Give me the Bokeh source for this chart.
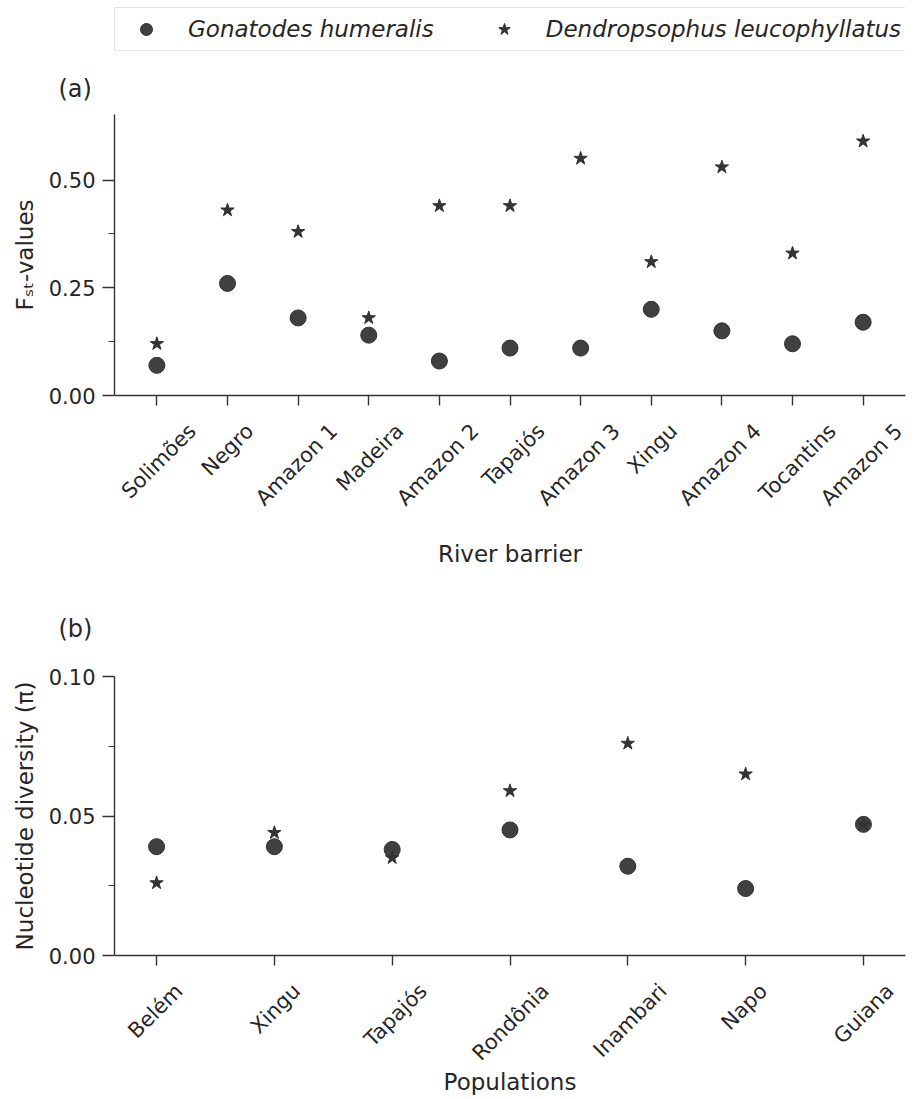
import math
from bokeh.plotting import figure
from bokeh.models import (Range1d, FixedTicker, Legend, LegendItem, Title,
                          ColumnDataSource, NumeralTickFormatter)
from bokeh.layouts import column
from bokeh.embed import file_html
from bokeh.resources import INLINE

# ---------------- data ----------------
species = ["Gonatodes humeralis", "Dendropsophus leucophyllatus"]

barriers = ["Solimões", "Negro", "Amazon 1", "Madeira", "Amazon 2", "Tapajós",
            "Amazon 3", "Xingu", "Amazon 4", "Tocantins", "Amazon 5"]
fst_gonatodes = [0.07, 0.26, 0.18, 0.14, 0.08, 0.11, 0.11, 0.20, 0.15, 0.12, 0.17]
fst_dendro = [0.12, 0.43, 0.38, 0.18, 0.44, 0.44, 0.55, 0.31, 0.53, 0.33, 0.59]

populations = ["Belém", "Xingu", "Tapajós", "Rondônia", "Inambari", "Napo", "Guiana"]
pi_gonatodes = [0.039, 0.039, 0.038, 0.045, 0.032, 0.024, 0.047]
pi_dendro = [0.026, 0.044, 0.035, 0.059, 0.076, 0.065, 0.047]

fst_ticks = [0.0, 0.25, 0.50]
fst_minor = [0.125, 0.375]
pi_ticks = [0.0, 0.05, 0.10]
pi_minor = [0.025, 0.075]

FONT = "DejaVu Sans"
TXT = "#262626"
AX = "#333333"
MARK = "#404040"
STAR = "#333333"
W = 912
FRAME_W = 791

CIRCLE_STYLE = dict(marker="circle", size=16, fill_color=MARK,
                    line_color="#303030", line_width=1)
STAR_STYLE = dict(marker="star", size=14, fill_color=STAR,
                  line_color=STAR, line_width=1)


def centre_shift_px(label):
    # rotated (45 deg) labels are anchored at their end by Bokeh;
    # shift the anchor so that each label is centred on its tick
    approx_w = 12.3 * len(label)
    return 0.354 * (approx_w + 16) - 5


def panel(src, cats, x_pad, y_end, yticks, yminor,
          ylabel, xlabel, title, height, b_top, b_bottom, title_standoff,
          xlabel_standoff):
    idx = list(range(len(cats)))
    p = figure(width=W, height=height,
               x_range=Range1d(-x_pad, len(cats) - 1 + x_pad),
               y_range=Range1d(0, y_end),
               output_backend="svg", toolbar_location=None,
               min_border_left=114, min_border_right=W - 114 - FRAME_W,
               min_border_top=b_top, min_border_bottom=b_bottom)
    p.title_location = None
    p.outline_line_color = None
    p.xgrid.visible = False
    p.ygrid.visible = False

    p.scatter("x", "g", source=src, **CIRCLE_STYLE)
    p.scatter("x", "d", source=src, **STAR_STYLE)

    # panel title "(a)" / "(b)"
    p.add_layout(Title(text=title, align="left", offset=-56, text_font=FONT,
                       text_font_size="24px", text_font_style="normal",
                       text_color=TXT, standoff=title_standoff), "above")

    # x axis: visible ticks at the categories (minor), labels centred on them
    px_per_unit = FRAME_W / (len(cats) - 1 + 2 * x_pad)
    lab_pos = [round(i + centre_shift_px(c) / px_per_unit, 3)
               for i, c in zip(idx, cats)]
    xa = p.xaxis[0]
    xa.ticker = FixedTicker(ticks=lab_pos, minor_ticks=idx)
    xa.major_label_overrides = {lp: c for lp, c in zip(lab_pos, cats)}
    xa.major_label_orientation = math.pi / 4
    xa.major_label_text_font = FONT
    xa.major_label_text_font_size = "21px"
    xa.major_label_text_color = TXT
    xa.major_label_standoff = 22
    xa.axis_label = xlabel
    xa.axis_label_text_font = FONT
    xa.axis_label_text_font_size = "23px"
    xa.axis_label_text_font_style = "normal"
    xa.axis_label_text_color = TXT
    xa.axis_label_standoff = xlabel_standoff
    xa.axis_line_color = AX
    xa.axis_line_width = 1.4
    xa.major_tick_line_color = None
    xa.major_tick_in = 0
    xa.major_tick_out = 0
    xa.minor_tick_line_color = AX
    xa.minor_tick_line_width = 1.4
    xa.minor_tick_in = 0
    xa.minor_tick_out = 10

    # y axis
    ya = p.yaxis[0]
    ya.ticker = FixedTicker(ticks=yticks, minor_ticks=yminor)
    ya.formatter = NumeralTickFormatter(format="0.00")
    ya.major_label_text_font = FONT
    ya.major_label_text_font_size = "21px"
    ya.major_label_text_color = TXT
    ya.major_label_standoff = 7
    ya.axis_label = ylabel
    ya.axis_label_text_font = FONT
    ya.axis_label_text_font_size = "23px"
    ya.axis_label_text_font_style = "normal"
    ya.axis_label_text_color = TXT
    ya.axis_label_standoff = 8
    ya.axis_line_color = AX
    ya.axis_line_width = 1.4
    ya.major_tick_line_color = AX
    ya.major_tick_line_width = 1.4
    ya.major_tick_in = 0
    ya.major_tick_out = 12
    ya.minor_tick_line_color = AX
    ya.minor_tick_line_width = 1.2
    ya.minor_tick_in = 0
    ya.minor_tick_out = 6
    return p


src_a = ColumnDataSource(dict(x=list(range(len(barriers))),
                              g=fst_gonatodes, d=fst_dendro))
src_b = ColumnDataSource(dict(x=list(range(len(populations))),
                              g=pi_gonatodes, d=pi_dendro))

# ---------------- legend strip (its own renderers sit outside its view) ----
pl = figure(width=W, height=60, output_backend="svg", toolbar_location=None,
            x_range=Range1d(-0.6, 10.6), y_range=Range1d(-2, -1),
            x_axis_location=None, y_axis_location=None, min_border=0)
pl.title_location = None
pl.outline_line_color = None
pl.grid.visible = False
lg_c = pl.scatter("x", "g", source=src_a, **CIRCLE_STYLE)
lg_s = pl.scatter("x", "d", source=src_a, **STAR_STYLE)
legend = Legend(items=[LegendItem(label=species[0], renderers=[lg_c]),
                       LegendItem(label=species[1], renderers=[lg_s])],
                orientation="horizontal", location=(0, 9), margin=0,
                padding=6, spacing=45, glyph_width=50, glyph_height=30,
                label_standoff=17, label_text_font=FONT,
                label_text_font_size="23px", label_text_font_style="italic",
                label_text_color=TXT, border_line_color="#cccccc",
                border_line_width=1, background_fill_color="white",
                background_fill_alpha=0.9)
pl.add_layout(legend, "center")

pa = panel(src_a, barriers, 0.6, 0.652,
           fst_ticks, fst_minor, "Fₛₜ-values", "River barrier",
           "(a)", 515, 53, 180, 24, 19)

pb = panel(src_b, populations, 0.357, 0.10,
           pi_ticks, pi_minor, "Nucleotide diversity (π)", "Populations",
           "(b)", 524, 101, 144, 68, -8)

layout = column(pl, pa, pb, spacing=0)

open("out.html", "w").write(file_html(layout, INLINE))
